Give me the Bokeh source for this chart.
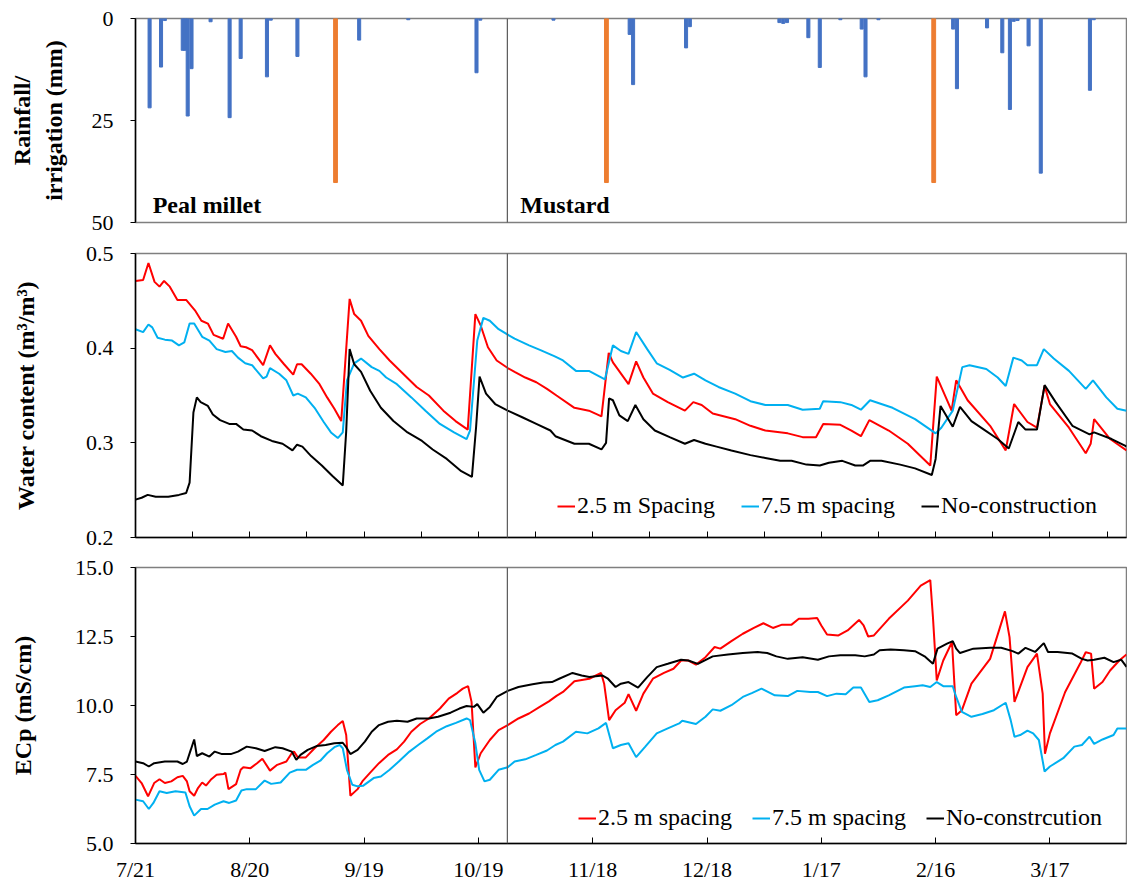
from bokeh.plotting import figure
from bokeh.layouts import column
from bokeh.models import Range1d, FixedTicker, Label, Legend, LegendItem, Arrow
from bokeh.embed import file_html
from bokeh.resources import INLINE

FONT = "Liberation Serif"

# ---------------- data ----------------
# x axis: days after 7/21 (season 2019-2020)
tick_days = [0, 30, 60, 90, 120, 150, 180, 210, 240]
tick_labels = ["7/21", "8/20", "9/19", "10/19", "11/18", "12/18", "1/17", "2/16", "3/17"]
mid_tick_days = list(range(0, 260, 15))
x_end_day = 260.1
season_split_day = 97.6
crop_names = ["Peal millet", "Mustard"]
crop_start_days = [4.5, 101.0]

# rainfall (mm)
rain_day = [3.7, 6.7, 7.7, 12.4, 13.0, 13.7, 14.7, 19.7, 24.7, 27.6, 34.5, 35.5, 42.5, 58.7, 71.6,
            89.5, 90.5, 109.7, 129.7, 130.6, 144.5, 145.5, 169.0, 170.0, 171.0, 176.6, 179.6,
            185.0, 190.6, 191.6, 195.0, 214.6, 215.6, 223.5, 227.5, 229.5, 230.5, 231.5, 234.4,
            237.6, 250.5, 251.5]
rain_mm = [21.9, 11.9, 0.5, 7.8, 7.8, 23.9, 12.3, 0.8, 24.3, 9.8, 14.3, 0.4, 9.3, 5.3, 0.3,
           13.3, 0.4, 0.4, 3.9, 16.2, 7.2, 2.0, 1.0, 1.2, 1.0, 4.7, 12.0,
           0.3, 2.6, 14.3, 0.3, 2.6, 17.2, 2.3, 8.4, 22.3, 0.7, 0.5, 6.7,
           37.9, 17.6, 0.3]
# irrigation (mm)
irr_day = [52.5, 123.6, 209.5]
irr_mm = [40.2, 40.2, 40.2]

# water content (m3/m3)
wc_sp25_day = [0, 2, 3.4, 5, 6.3, 7.5, 9, 11, 13.3, 15.6, 17.3, 19, 20.5, 23, 24.3, 26.4, 27.6, 29,
               30.6, 33.5, 35.3, 36.7, 39, 41.4, 42.4, 43.6, 46, 48.3, 50.3, 52.2, 54, 56.2, 57.4,
               59.2, 61.1, 64, 66.7, 70.5, 73.8, 77, 80.8, 84, 87.2, 89.2, 90.6, 92.5, 94.8, 97.7,
               99.5, 102.3, 105.2, 108, 110.5, 115.2, 119, 122.3, 124.2, 125.3, 129.4, 131.4, 133.3,
               135.8, 139.7, 144.2, 146.4, 148.6, 151.5, 157.4, 161.4, 165.3, 171.2, 175.1, 178.6,
               180.5, 185, 187.9, 190.4, 192.6, 197.7, 202.7, 208.6, 210.3, 214.2, 215.4, 218.4,
               224.3, 228.4, 230.6, 234.1, 236.6, 238.6, 240, 245, 249.4, 250.7, 251.6, 255.8, 260.1]
wc_sp25 = [0.471, 0.472, 0.490, 0.470, 0.465, 0.471, 0.465, 0.451, 0.451, 0.440, 0.429, 0.426, 0.414,
           0.410, 0.426, 0.412, 0.402, 0.401, 0.398, 0.382, 0.403, 0.394, 0.383, 0.372, 0.383, 0.383,
           0.373, 0.362, 0.348, 0.336, 0.323, 0.452, 0.436, 0.429, 0.413, 0.399, 0.387, 0.372, 0.359,
           0.350, 0.334, 0.323, 0.314, 0.436, 0.424, 0.401, 0.387, 0.379, 0.375, 0.369, 0.364, 0.357,
           0.350, 0.337, 0.334, 0.328, 0.395, 0.385, 0.362, 0.386, 0.369, 0.352, 0.343, 0.334, 0.343,
           0.340, 0.331, 0.325, 0.318, 0.313, 0.310, 0.306, 0.306, 0.320, 0.319, 0.313, 0.307, 0.324,
           0.313, 0.299, 0.276, 0.370, 0.334, 0.366, 0.345, 0.318, 0.292, 0.341, 0.322, 0.316, 0.360,
           0.341, 0.316, 0.289, 0.299, 0.325, 0.304, 0.292]

wc_sp75_day = [0, 2, 3.4, 4.4, 5.8, 7.7, 9.6, 11.4, 12.8, 14.2, 15.4, 17.5, 19.4, 21.3, 23.6, 25.3,
               26.9, 28.8, 30.6, 33.5, 34.4, 35.3, 37.7, 39.6, 41.4, 42.6, 44.7, 47, 49.4, 51.3, 53.1,
               54.4, 55.5, 57.4, 59.2, 62, 64, 65.8, 68.6, 72.4, 76.1, 79.9, 83.6, 86.9, 87.8, 89.7,
               91.3, 93, 95.3, 99.5, 103.3, 106.3, 110.2, 112.2, 115.6, 119, 123.2, 125.3, 127.4,
               129.4, 131.4, 134.3, 136.8, 140.2, 143.7, 146.6, 149.6, 153, 157.4, 161.4, 165.3, 171.2,
               175.1, 179.6, 180.5, 185, 187.9, 190.4, 192.8, 198.7, 204.6, 208.6, 210, 211.5, 214.5,
               217, 218.9, 223.3, 226.3, 228.4, 230.4, 232.6, 234.1, 236.6, 238.4, 241, 245, 249.4,
               251.3, 254.8, 257.7, 260.1]
wc_sp75 = [0.420, 0.417, 0.425, 0.422, 0.411, 0.409, 0.408, 0.403, 0.406, 0.426, 0.426, 0.412, 0.408,
           0.399, 0.396, 0.397, 0.390, 0.384, 0.382, 0.368, 0.370, 0.379, 0.373, 0.366, 0.350, 0.352,
           0.348, 0.337, 0.322, 0.311, 0.305, 0.311, 0.366, 0.384, 0.389, 0.380, 0.376, 0.369, 0.362,
           0.348, 0.334, 0.320, 0.311, 0.304, 0.313, 0.408, 0.432, 0.429, 0.420, 0.410, 0.403, 0.398,
           0.391, 0.387, 0.376, 0.376, 0.367, 0.403, 0.397, 0.394, 0.417, 0.399, 0.384, 0.377, 0.369,
           0.373, 0.366, 0.359, 0.352, 0.344, 0.340, 0.340, 0.335, 0.336, 0.344, 0.343, 0.340, 0.335,
           0.345, 0.337, 0.325, 0.314, 0.310, 0.316, 0.334, 0.380, 0.382, 0.378, 0.369, 0.360, 0.390,
           0.387, 0.382, 0.382, 0.399, 0.389, 0.376, 0.357, 0.366, 0.348, 0.336, 0.334]

wc_none_day = [0, 1.6, 3.2, 5.3, 8.6, 11.4, 13.3, 14.2, 15.2, 16.1, 17.1, 19, 20.3, 22.2, 24.6, 26.4,
               28.3, 30.6, 32.9, 35.8, 38.6, 41.2, 42.4, 43.8, 46.1, 48.9, 51.7, 54.4, 55.3, 56.2,
               57.4, 59.2, 61.6, 64.4, 67.7, 71.4, 75.2, 78, 81.7, 85.5, 88.3, 89.4, 90.3, 92, 94.4,
               97.7, 101.5, 105.2, 108.9, 110.2, 115.2, 119, 122.3, 123.5, 124.3, 125.3, 127, 129.2,
               131.2, 133.3, 136.3, 140.2, 144.2, 146.6, 149.6, 152.5, 156.4, 161.4, 165.3, 169.2,
               172.2, 176.1, 179.6, 182, 185.5, 188.9, 190.9, 192.8, 195.8, 200.7, 204.6, 209, 210,
               211.3, 214.5, 216.4, 219.4, 222.3, 226.3, 229.2, 231.7, 233.6, 236.6, 238.6, 241.5,
               245.9, 250.4, 251.6, 256.2, 259.7, 260.1]
wc_none = [0.240, 0.242, 0.245, 0.243, 0.243, 0.245, 0.247, 0.258, 0.332, 0.348, 0.343, 0.339, 0.330,
           0.324, 0.320, 0.320, 0.314, 0.313, 0.307, 0.302, 0.299, 0.292, 0.298, 0.296, 0.286, 0.276,
           0.265, 0.255, 0.312, 0.399, 0.383, 0.375, 0.355, 0.337, 0.323, 0.311, 0.302, 0.293, 0.283,
           0.270, 0.264, 0.317, 0.370, 0.352, 0.341, 0.334, 0.327, 0.320, 0.313, 0.307, 0.299, 0.299,
           0.293, 0.300, 0.347, 0.345, 0.329, 0.323, 0.340, 0.325, 0.313, 0.306, 0.299, 0.303, 0.299,
           0.296, 0.292, 0.287, 0.284, 0.281, 0.281, 0.277, 0.276, 0.279, 0.281, 0.276, 0.276, 0.281,
           0.281, 0.277, 0.273, 0.266, 0.283, 0.339, 0.317, 0.338, 0.323, 0.315, 0.304, 0.294, 0.322,
           0.314, 0.314, 0.361, 0.343, 0.318, 0.309, 0.311, 0.304, 0.297, 0.296]

# ECp (mS/cm)
ec_sp25_day = [0, 1.6, 3.3, 4.9, 6.3, 7.7, 9.4, 11, 12.4, 13.5, 14.2, 15.4, 16.4, 17.5, 18.5, 19.9,
               21.3, 23.1, 23.6, 24.4, 26.4, 27.6, 28.3, 30.2, 31.9, 33.3, 35.3, 37.2, 39.6, 41, 41.6,
               42.6, 44.7, 47, 49.4, 51.3, 53.1, 54.4, 55.3, 56.4, 58.3, 59.7, 61.6, 63.9, 66.3, 68.6,
               70.5, 72.4, 74.7, 77, 79.9, 82.2, 84.5, 85.9, 87.3, 88.2, 89.2, 90.6, 93, 95.3, 97.7,
               100.5, 103.3, 106.1, 108.5, 110.5, 112.2, 115.2, 119.1, 122.2, 123, 124.3, 126, 128.4,
               129.4, 131.4, 133.3, 135.8, 138.7, 141.2, 143.2, 145.1, 147.1, 149.6, 152, 153.5, 156.4,
               159.4, 162.3, 164.8, 167.3, 169.7, 172.2, 174.1, 176.6, 178.9, 180, 181.5, 184.5, 186.9,
               189.9, 191.1, 192.3, 193.8, 197.7, 202.7, 206.1, 208.6, 209.3, 210.3, 212, 214.3, 215.4,
               216.9, 219.4, 224.3, 228.2, 229.4, 230.7, 234.1, 236.6, 238.1, 238.7, 240, 244, 247.9,
               249.4, 250.8, 251.6, 253.8, 255.8, 258.2, 260.1]
ec_sp25 = [7.45, 7.19, 6.71, 7.19, 7.33, 7.19, 7.25, 7.40, 7.45, 7.25, 6.89, 6.73, 7.01, 7.21, 7.10, 7.33,
           7.49, 7.52, 7.57, 6.97, 7.15, 7.67, 7.76, 7.73, 7.91, 8.07, 7.64, 7.85, 7.97, 8.27, 8.33,
           8.12, 8.12, 8.45, 8.75, 9.05, 9.29, 9.44, 8.93, 6.73, 6.97, 7.28, 7.57, 7.91, 8.21, 8.41,
           8.69, 9.05, 9.33, 9.53, 9.89, 10.25, 10.46, 10.61, 10.70, 10.13, 7.76, 8.27, 8.75, 9.11, 9.29,
           9.53, 9.71, 9.95, 10.15, 10.35, 10.49, 10.88, 10.97, 11.18, 10.79, 9.47, 9.83, 10.10,
           10.41, 9.81, 10.43, 10.97, 11.18, 11.33, 11.63, 11.63, 11.48, 11.75, 12.12, 12.06, 12.33,
           12.60, 12.81, 12.98, 12.81, 12.93, 12.93, 13.14, 13.14, 13.17, 12.90, 12.57, 12.54, 12.72,
           13.10, 12.90, 12.50, 12.54, 13.14, 13.80, 14.34, 14.54, 13.20, 10.91, 11.63, 12.30, 9.65,
           9.83, 10.79, 11.69, 13.41, 12.48, 10.13, 11.39, 11.88, 10.43, 8.25, 8.99, 10.49, 11.51,
           11.93, 11.88, 10.61, 10.85, 11.27, 11.63, 11.85]

ec_sp75_day = [0, 2, 3.5, 4.7, 6.3, 8.2, 10.5, 13.1, 14.2, 15.4, 17.2, 18.9, 20.8, 23.1, 24.6, 26.4,
               27.8, 29.2, 31.6, 33.9, 35.6, 38.1, 40.5, 42.4, 44.7, 46.6, 48.5, 50.3, 52.2, 53.6, 54.4,
               55.5, 56.9, 58.3, 59.7, 62.5, 64.4, 66.7, 69.1, 71.9, 74.2, 76.6, 78.9, 81.7, 84.1, 86.9,
               87.8, 89.2, 90.2, 91.6, 93, 95.3, 97.7, 99.5, 102.3, 105.2, 108, 110.2, 112.2, 115.6,
               118.6, 121.5, 123.5, 125.3, 127.4, 129.4, 131.4, 133.8, 136.8, 139.7, 142.7, 143.5,
               147.1, 149.6, 151.5, 153.5, 156.4, 159.4, 161.9, 164.3, 167.8, 171.2, 173.7, 177.1,
               179.1, 181.5, 184, 186.4, 188.4, 190.4, 192.6, 194.8, 197.7, 201.7, 204.6, 206.6, 208.6,
               210.3, 212, 214.5, 215.4, 216.9, 219.4, 222.3, 225.3, 228.4, 229.7, 230.7, 232.2, 234.1,
               235.6, 237.1, 238.6, 240, 243.5, 246.4, 248.4, 250.4, 251.6, 253.8, 256.7, 257.7, 260.1]
ec_sp75 = [6.59, 6.53, 6.25, 6.47, 6.89, 6.83, 6.89, 6.85, 6.35, 6.01, 6.25, 6.25, 6.41, 6.53, 6.47, 6.56,
           6.92, 6.97, 6.97, 7.28, 7.16, 7.21, 7.57, 7.67, 7.67, 7.85, 8.00, 8.27, 8.49, 8.57, 8.45,
           7.67, 7.13, 7.07, 7.09, 7.37, 7.43, 7.67, 7.97, 8.33, 8.57, 8.81, 9.05, 9.25, 9.37, 9.53,
           9.47, 8.63, 7.67, 7.25, 7.31, 7.67, 7.76, 7.97, 8.05, 8.21, 8.37, 8.57, 8.69, 9.05,
           8.99, 9.17, 9.37, 8.45, 8.57, 8.63, 8.13, 8.51, 8.99, 9.17, 9.35, 9.45,
           9.33, 9.59, 9.86, 9.81, 10.01, 10.31, 10.46, 10.61, 10.37, 10.34, 10.53, 10.49,
           10.49, 10.34, 10.43, 10.41, 10.65, 10.65, 10.13, 10.19, 10.37, 10.65, 10.70, 10.73, 10.67,
           10.85, 10.70, 10.70, 10.31, 9.77, 9.59, 9.69, 9.83, 10.10, 9.47, 8.87, 8.93, 9.09,
           8.99, 8.75, 7.61, 7.79, 8.09, 8.51, 8.57, 8.87, 8.61, 8.77, 8.93, 9.17, 9.17]

ec_none_day = [0, 2, 3.5, 4.9, 7.7, 11, 12.4, 13.5, 14.5, 15.4, 16.1, 17.5, 19.4, 20.8, 22.7, 25, 26.9,
               29.2, 31.6, 33.9, 36.7, 38.6, 41, 42.2, 43.3, 45.2, 47.5, 49.9, 52.2, 54.4, 55.3, 56.4,
               58.3, 60.2, 62, 63.9, 66.3, 68.6, 71.4, 73.8, 77, 79.4, 82.7, 85, 86.9, 88.8, 89.7,
               91.3, 93, 94.8, 97.7, 100.5, 104.2, 107, 109.3, 111.2, 114.7, 117.1, 119.1, 122.5, 124,
               126, 127.4, 129.4, 131.9, 134.3, 136.8, 139.7, 143.2, 145.1, 147.6, 151.5, 155.5, 159.4,
               163.3, 165.8, 168.2, 171.2, 175.1, 179.1, 182, 185, 188.9, 191.4, 193.8, 195.3, 198.2,
               201.7, 204.6, 207.1, 209.3, 210.5, 213, 214.5, 215.4, 216.4, 219.9, 224.3, 227.2, 230.2,
               231.7, 233.6, 236.1, 238.4, 239.5, 242, 245.9, 248.4, 249.9, 251.6, 254.3, 256.7, 258.7,
               260.1]
ec_none = [7.97, 7.91, 7.79, 7.91, 7.97, 7.97, 7.88, 7.97, 8.39, 8.77, 8.17, 8.27, 8.15, 8.33, 8.24, 8.24,
           8.33, 8.51, 8.45, 8.35, 8.49, 8.45, 8.33, 8.03, 8.21, 8.39, 8.53, 8.57, 8.63, 8.65, 8.49, 8.24,
           8.39, 8.69, 9.05, 9.29, 9.41, 9.45, 9.41, 9.53, 9.53, 9.59, 9.74, 9.89, 9.98, 9.95, 10.05,
           9.74, 9.95, 10.31, 10.53, 10.67, 10.77, 10.83, 10.85, 10.97, 11.18, 11.09, 11.03, 11.09,
           10.97, 10.67, 10.79, 10.85, 10.65, 11.03, 11.39, 11.51, 11.66, 11.63, 11.51, 11.78, 11.85,
           11.90, 11.94, 11.90, 11.78, 11.69, 11.75, 11.66, 11.78, 11.82, 11.82, 11.78, 11.85, 12.00,
           12.03, 12.00, 11.97, 11.78, 11.51, 12.06, 12.24, 12.33, 12.06, 11.90, 12.06, 12.09, 12.09,
           11.97, 11.88, 12.09, 11.94, 12.26, 11.94, 11.94, 11.88, 11.69, 11.63, 11.66, 11.73, 11.57,
           11.66, 11.40]

# ---------------- styling ----------------
RED = "#FF0000"
SKY = "#00B0F0"
BLACK = "#000000"
RAIN_C = "#4472C4"
IRR_C = "#ED7D31"
FRAME_C = "#7F7F7F"
SPLIT_C = "#595959"
W = 1127
ML = 135


def base(height, y_range, top_border, bottom_border):
    p = figure(width=W, height=height, x_range=Range1d(0, x_end_day), y_range=y_range,
               output_backend="svg", toolbar_location=None,
               min_border_left=ML, min_border_right=1,
               min_border_top=top_border, min_border_bottom=bottom_border)
    p.xgrid.visible = False
    p.ygrid.visible = False
    p.outline_line_color = FRAME_C
    p.outline_line_width = 1.5
    p.background_fill_color = "white"
    p.border_fill_color = "white"
    for ax in (p.xaxis[0], p.yaxis[0]):
        ax.axis_line_color = BLACK
        ax.axis_line_width = 1.5
        ax.major_tick_line_color = BLACK
        ax.minor_tick_line_color = None
        ax.major_label_text_font = FONT
        ax.major_label_text_font_size = "22px"
        ax.major_label_text_color = BLACK
        ax.axis_label_text_font = FONT
        ax.axis_label_text_font_size = "24px"
        ax.axis_label_text_font_style = "bold"
        ax.axis_label_text_color = BLACK
    p.yaxis.major_tick_in = 0
    p.yaxis.major_tick_out = 5
    p.yaxis.major_label_standoff = 17
    return p


def split_line(p, y0, y1):
    p.add_layout(Arrow(end=None, x_start=season_split_day, x_end=season_split_day,
                       y_start=y0, y_end=y1, line_color=SPLIT_C, line_width=1.2))


# ---- top: rainfall / irrigation ----
p1 = base(237, Range1d(50, 0), 18, 15)
p1.vbar(x=rain_day, top=rain_mm, bottom=0, width=0.8, color=RAIN_C)
p1.vbar(x=irr_day, top=irr_mm, bottom=0, width=1.0, color=IRR_C)
p1.xaxis.visible = False
p1.yaxis.ticker = FixedTicker(ticks=[0, 25, 50])
p1.yaxis.axis_label = "Rainfall/\nirrigation (mm)"
p1.yaxis.axis_label_standoff = 22
for name, d in zip(crop_names, crop_start_days):
    p1.add_layout(Label(x=d, y=45.6, text=name, text_font=FONT, text_font_size="24px",
                        text_font_style="bold", text_baseline="middle", text_color=BLACK))
split_line(p1, 0, 53.7)

# ---- middle: water content ----
p2 = base(315, Range1d(0.2, 0.5), 16, 15)
r1 = p2.line(wc_sp25_day, wc_sp25, line_color=RED, line_width=2)
r2 = p2.line(wc_sp75_day, wc_sp75, line_color=SKY, line_width=2)
r3 = p2.line(wc_none_day, wc_none, line_color=BLACK, line_width=2)
p2.xaxis.ticker = FixedTicker(ticks=[], minor_ticks=mid_tick_days)
p2.xaxis.minor_tick_line_color = BLACK
p2.xaxis.minor_tick_in = 6
p2.xaxis.minor_tick_out = 0
p2.xaxis.major_tick_in = 0
p2.xaxis.major_tick_out = 0
p2.yaxis.ticker = FixedTicker(ticks=[0.2, 0.3, 0.4, 0.5])
p2.yaxis.major_label_overrides = {0.2: "0.2", 0.3: "0.3", 0.4: "0.4", 0.5: "0.5"}
p2.yaxis.axis_label = "Water content (m\u00b3/m\u00b3)"
p2.yaxis.axis_label_standoff = 44
leg2 = Legend(items=[LegendItem(label="2.5 m Spacing", renderers=[r1]),
                     LegendItem(label="7.5 m spacing", renderers=[r2]),
                     LegendItem(label="No-construction", renderers=[r3])],
              orientation="horizontal", location=(422, 18), glyph_width=18, glyph_height=20,
              label_standoff=2, spacing=26, padding=0, margin=0,
              background_fill_alpha=0, border_line_alpha=0,
              label_text_font=FONT, label_text_font_size="24px", label_text_color=BLACK)
p2.add_layout(leg2)
split_line(p2, 0.5 + 16 / 946.7, 0.2 - 15 / 946.7)

# ---- bottom: ECp ----
p3 = base(332, Range1d(5, 15), 15, 41)
q1 = p3.line(ec_sp25_day, ec_sp25, line_color=RED, line_width=2)
q2 = p3.line(ec_sp75_day, ec_sp75, line_color=SKY, line_width=2)
q3 = p3.line(ec_none_day, ec_none, line_color=BLACK, line_width=2)
p3.xaxis.ticker = FixedTicker(ticks=tick_days)
p3.xaxis.major_label_overrides = {d: s for d, s in zip(tick_days, tick_labels)}
p3.xaxis.major_tick_in = 6
p3.xaxis.major_tick_out = 0
p3.xaxis.major_label_standoff = 13
p3.yaxis.ticker = FixedTicker(ticks=[5, 7.5, 10, 12.5, 15])
p3.yaxis.major_label_overrides = {5: "5.0", 7.5: "7.5", 10: "10.0", 12.5: "12.5", 15: "15.0"}
p3.yaxis.axis_label = "ECp (mS/cm)"
p3.yaxis.axis_label_standoff = 36
leg3 = Legend(items=[LegendItem(label="2.5 m spacing", renderers=[q1]),
                     LegendItem(label="7.5 m spacing", renderers=[q2]),
                     LegendItem(label="No-constrcution", renderers=[q3])],
              orientation="horizontal", location=(443, 12), glyph_width=18, glyph_height=20,
              label_standoff=2, spacing=20, padding=0, margin=0,
              background_fill_alpha=0, border_line_alpha=0,
              label_text_font=FONT, label_text_font_size="24px", label_text_color=BLACK)
p3.add_layout(leg3)
split_line(p3, 15 + 15 / 27.6, 5)

layout = column(p1, p2, p3, spacing=0)
open("out.html", "w").write(file_html(layout, INLINE))
